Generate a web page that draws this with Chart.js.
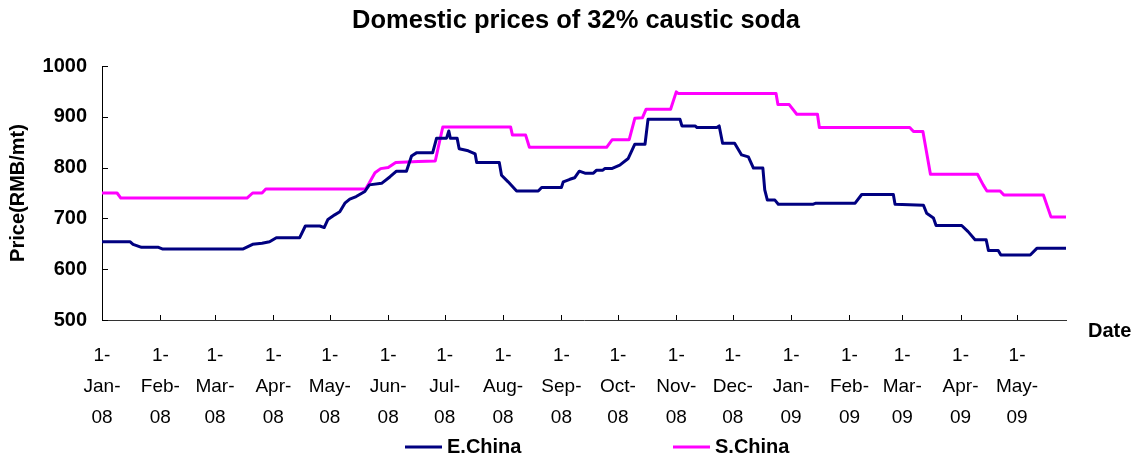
<!DOCTYPE html>
<html><head><meta charset="utf-8">
<script src="https://cdn.jsdelivr.net/npm/chart.js@4/dist/chart.umd.min.js"></script>
<style>html,body{margin:0;padding:0;background:#fff;overflow:hidden;}</style>
</head><body>
<canvas id="c" width="1138" height="459"></canvas>
<script>
// ---- text ----
const chartTitle = 'Domestic prices of 32% caustic soda';
const yAxisTitle = 'Price(RMB/mt)';
const xAxisTitle = 'Date';

// ---- x axis: days since 1-Jan-08 ----
const monthTickDays = [0,31,60,91,121,152,182,213,244,274,305,335,366,397,425,456,486];
const monthTickLabels = [
  ['1-','Jan-','08'],['1-','Feb-','08'],['1-','Mar-','08'],['1-','Apr-','08'],
  ['1-','May-','08'],['1-','Jun-','08'],['1-','Jul-','08'],['1-','Aug-','08'],
  ['1-','Sep-','08'],['1-','Oct-','08'],['1-','Nov-','08'],['1-','Dec-','08'],
  ['1-','Jan-','09'],['1-','Feb-','09'],['1-','Mar-','09'],['1-','Apr-','09'],
  ['1-','May-','09']
];
const firstDay = 0;
const lastDay = 512;

// ---- y axis ----
const yTickValues = [500,600,700,800,900,1000];

// ---- series: E.China ----
const eChinaLabel = 'E.China';
const eChinaDays = [0,15,16.5,21,30,32,75,80,85,89,92.6,105,108,115.7,118,120,123.6,126.3,129,131.6,135,139.6,142,148.5,153,156.4,161.7,164.4,167,175.6,177.7,183,184.2,185,188.6,189.7,194.5,198.2,199,211,212.2,215.7,220.2,231.7,233.5,244,245,248.5,251,253.5,256.5,261,262.7,266,267,270.7,275,279.5,283,288.4,290,307,308,315,316,326.5,327.8,329.6,336,339.7,343.3,346,351,352,353.4,357.4,359.2,377.8,379.2,400,403.5,420.3,421.2,436.3,438,441.6,443,456.6,460,463.7,469.6,470.8,476,477.4,493,496.5,512];
const eChinaPrices = [654,654,649,643,643,640,640,649,651,654,662,662,685,685,682,698,707,713,730,738,743,753,766,769,782,793,793,823,829,829,858,858,872,858,858,837,833,827,810,810,785,772,754,754,761,761,772,777,780,793,789,789,795,795,798,798,805,818,846,846,895,895,882,882,879,879,882,848,848,825,821,799,799,756,736,736,728,728,730,730,747,747,728,726,710,701,686,686,674,658,658,637,637,628,628,641,641];

// ---- series: S.China ----
const sChinaLabel = 'S.China';
const sChinaDays = [0,8,10,77,80,85,87,140,142,145,148,152,154,156,168,177,181,217,218,225,227,268,271,280,283,287,289,302,305,306,358,359,365,369,380,381,429,431,436,440,465,468,470,477,479,500,504,512];
const sChinaPrices = [750,750,740,740,750,750,758,758,770,790,798,800,805,810,812,813,880,880,864,864,840,840,855,855,897,898,915,915,949,946,946,924,924,905,905,879,879,871,871,787,787,766,754,754,746,746,703,703];

const eColor = '#000080';
const sColor = '#FF00FF';
const FONT = "'Liberation Sans', Arial, sans-serif";

function toPoints(days, vals){ return days.map((d,i)=>({x:d, y:vals[i]})); }

const decorPlugin = {
  id: 'decor',
  beforeDatasetsDraw(chart){
    const ctx = chart.ctx, a = chart.chartArea;
    const xs = chart.scales.x, ys = chart.scales.y;
    ctx.save();
    ctx.strokeStyle = '#000'; ctx.lineWidth = 1;
    ctx.beginPath();
    yTickValues.forEach(v=>{
      const py = Math.round(ys.getPixelForValue(v)) + 0.5;
      ctx.moveTo(a.left, py); ctx.lineTo(a.left + 6, py);
    });
    monthTickDays.forEach(d=>{
      const px = Math.round(xs.getPixelForValue(d)) + 0.5;
      ctx.moveTo(px, a.bottom); ctx.lineTo(px, a.bottom - 5);
    });
    ctx.stroke();
    ctx.restore();
  },
  afterDraw(chart){
    const ctx = chart.ctx;
    ctx.save();
    ctx.fillStyle = '#000';
    ctx.textBaseline = 'middle';
    // title
    ctx.font = "bold 25.5px " + FONT;
    ctx.textAlign = 'center';
    ctx.fillText(chartTitle, 576, 21);
    // Date label
    ctx.font = "bold 20px " + FONT;
    ctx.textAlign = 'left';
    ctx.fillText(xAxisTitle, 1088, 331);
    // legend
    const legendX = [405, 673];
    chart.data.datasets.forEach((ds,i)=>{
      const x = legendX[i], y = 447;
      ctx.strokeStyle = ds.borderColor; ctx.lineWidth = 3;
      ctx.beginPath(); ctx.moveTo(x, y); ctx.lineTo(x + 37, y); ctx.stroke();
      ctx.font = "bold 20px " + FONT;
      ctx.fillText(ds.label, x + 42, y);
    });
    ctx.restore();
  }
};

new Chart(document.getElementById('c'), {
  type: 'line',
  data: {
    datasets: [
      { label: eChinaLabel, data: toPoints(eChinaDays, eChinaPrices), borderColor: eColor, backgroundColor: eColor, borderWidth: 3, pointRadius: 0, tension: 0, borderJoinStyle: 'round', borderCapStyle: 'round' },
      { label: sChinaLabel, data: toPoints(sChinaDays, sChinaPrices), borderColor: sColor, backgroundColor: sColor, borderWidth: 3, pointRadius: 0, tension: 0, borderJoinStyle: 'round', borderCapStyle: 'round' }
    ]
  },
  options: {
    responsive: false,
    animation: false,
    devicePixelRatio: 1,
    layout: { padding: { top: 66, right: 72, left: 0, bottom: 0 } },
    plugins: { legend: { display: false }, title: { display: false }, tooltip: { enabled: false } },
    scales: {
      x: {
        type: 'linear', min: firstDay, max: lastDay,
        afterBuildTicks(scale){ scale.ticks = monthTickDays.map(v=>({value:v})); },
        afterFit(scale){ scale.height = 139; },
        grid: { drawOnChartArea: false, drawTicks: false },
        border: { display: true, color: '#333', width: 1 },
        ticks: {
          autoSkip: false, maxRotation: 0, minRotation: 0, padding: 20, color: '#000',
          font: { family: FONT, size: 19, lineHeight: 1.63 },
          callback(value){ const i = monthTickDays.indexOf(value); return i >= 0 ? monthTickLabels[i] : ''; }
        }
      },
      y: {
        min: 500, max: 1000,
        afterBuildTicks(scale){ scale.ticks = yTickValues.map(v=>({value:v})); },
        afterFit(scale){ scale.width = 102; },
        grid: { drawOnChartArea: false, drawTicks: false },
        border: { display: true, color: '#000', width: 1 },
        ticks: { padding: 15, color: '#000', font: { family: FONT, size: 20, weight: 'bold' },
          callback(value){ return String(value); } },
        title: { display: true, text: yAxisTitle, color: '#000', padding: { top: 6, bottom: 0 }, font: { family: FONT, size: 20, weight: 'bold' } }
      }
    }
  },
  plugins: [decorPlugin]
});
</script>
</body></html>
